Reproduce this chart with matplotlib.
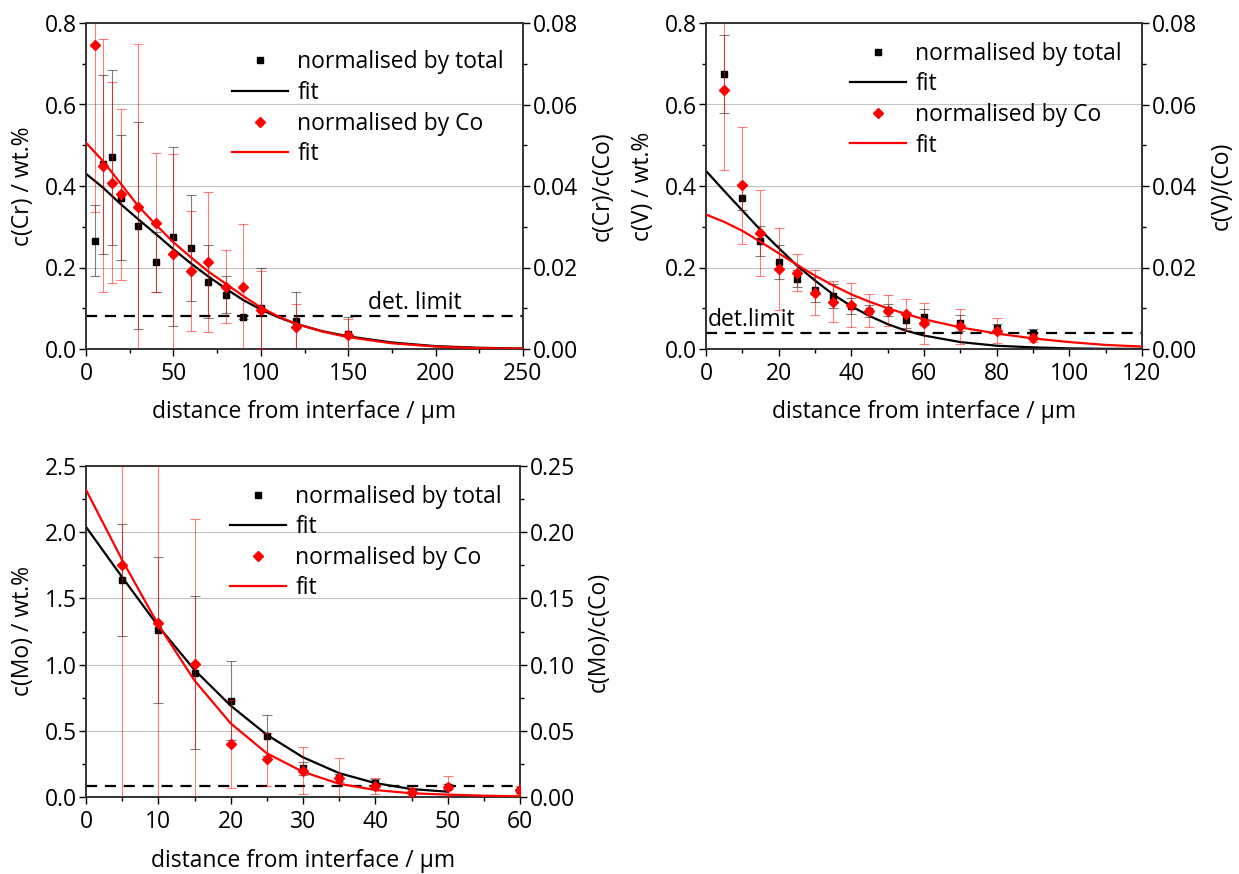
import matplotlib
matplotlib.use("Agg")
import matplotlib.pyplot as plt
from matplotlib.lines import Line2D
from matplotlib.ticker import MultipleLocator, FormatStrFormatter

plt.rcParams['font.family'] = ['Open Sans', 'DejaVu Sans']
FS = 16.5
plt.rcParams['font.size'] = FS

# ---------------- Cr panel ----------------
cr_x = [5, 10, 15, 20, 30, 40, 50, 60, 70, 80, 90, 100, 120, 150]
cr_tot = [0.266, 0.453, 0.470, 0.371, 0.303, 0.213, 0.276, 0.249, 0.165, 0.133, 0.079, 0.100, 0.069, 0.038]
cr_tot_err = [0.087, 0.22, 0.215, 0.153, 0.254, 0.073, 0.22, 0.13, 0.09, 0.045, 0.005, 0.10, 0.07, 0.04]
cr_co = [0.0745, 0.0450, 0.0408, 0.0380, 0.0348, 0.0310, 0.0233, 0.0191, 0.0214, 0.0153, 0.0151, 0.0096, 0.0053, 0.0034]
cr_co_err = [0.041, 0.031, 0.0246, 0.021, 0.040, 0.017, 0.0245, 0.0147, 0.0172, 0.009, 0.0155, 0.0095, 0.0057, 0.004]
cr_fit_x = [0, 10, 20, 30, 40, 50, 60, 70, 80, 90, 100, 110, 120, 135, 150, 175, 200, 225, 250]
cr_fit_tot = [0.43, 0.395, 0.355, 0.318, 0.282, 0.245, 0.21, 0.178, 0.148, 0.12, 0.097, 0.078, 0.062,
              0.044, 0.031, 0.016, 0.007, 0.003, 0.001]
cr_fit_co = [0.0506, 0.046, 0.0405, 0.035, 0.0305, 0.0262, 0.0225, 0.019, 0.016, 0.013, 0.0102, 0.008,
             0.0062, 0.0043, 0.0029, 0.0014, 0.0006, 0.0002, 0.0001]
cr_limit = 0.08

# ---------------- V panel ----------------
v_x = [5, 10, 15, 20, 25, 30, 35, 40, 45, 50, 55, 60, 70, 80, 90]
v_tot = [0.674, 0.371, 0.266, 0.213, 0.173, 0.146, 0.130, 0.106, 0.094, 0.096, 0.071, 0.078, 0.063, 0.051, 0.040]
v_tot_err = [0.096, 0.03, 0.037, 0.042, 0.02, 0.03, 0.03, 0.02, 0.015, 0.015, 0.02, 0.02, 0.02, 0.01, 0.01]
v_co = [0.0636, 0.0402, 0.0284, 0.0196, 0.0187, 0.0138, 0.0116, 0.0108, 0.0094, 0.0094, 0.0085, 0.0063,
        0.0056, 0.0045, 0.0026]
v_co_err = [0.0197, 0.0144, 0.0106, 0.010, 0.0045, 0.0055, 0.005, 0.0055, 0.004, 0.0038, 0.0038, 0.005,
            0.0043, 0.003, 0.001]
v_fit_x = [0, 5, 10, 15, 20, 25, 30, 35, 40, 45, 50, 55, 60, 70, 80, 90, 100, 110, 120]
v_fit_tot = [0.437, 0.388, 0.34, 0.292, 0.248, 0.205, 0.168, 0.134, 0.105, 0.081, 0.061, 0.045, 0.033,
             0.017, 0.008, 0.004, 0.0015, 0.0005, 0.0002]
v_fit_co = [0.033, 0.0312, 0.029, 0.0263, 0.0235, 0.0207, 0.018, 0.0156, 0.0134, 0.0116, 0.010, 0.0086,
            0.0073, 0.0053, 0.0038, 0.0026, 0.0017, 0.001, 0.0006]
v_limit = 0.04

# ---------------- Mo panel ----------------
mo_x = [5, 10, 15, 20, 25, 30, 35, 40, 45, 50, 60]
mo_tot = [1.639, 1.261, 0.939, 0.727, 0.463, 0.216, 0.14, 0.103, 0.04, 0.078, 0.05]
mo_tot_err = [0.42, 0.55, 0.58, 0.30, 0.155, 0.05, 0.03, 0.03, 0.02, 0.02, 0.01]
mo_co = [0.1752, 0.1316, 0.1002, 0.040, 0.0285, 0.020, 0.0146, 0.0083, 0.004, 0.0078, 0.0053]
mo_co_err = [0.18, 0.14, 0.11, 0.0334, 0.02, 0.018, 0.015, 0.0058, 0.003, 0.008, 0.003]
mo_fit_x_tot = [0, 5, 10, 15, 20, 25, 30, 35, 40, 45, 50]
mo_fit_tot = [2.04, 1.66, 1.29, 0.96, 0.69, 0.47, 0.30, 0.18, 0.105, 0.06, 0.04]
mo_fit_x_co = [0, 5, 10, 15, 20, 25, 30, 35, 40, 45, 50, 55, 60]
mo_fit_co = [0.232, 0.179, 0.130, 0.088, 0.0556, 0.033, 0.019, 0.010, 0.0053, 0.0028, 0.0018, 0.001, 0.0005]
mo_limit = 0.085

label_tot = "normalised by total"
label_co = "normalised by Co"

W, H = 1239, 874
fig = plt.figure(figsize=(W / 100, H / 100), dpi=100)


def rect(l, t, r, b):
    return [l / W, 1 - b / H, (r - l) / W, (b - t) / H]


def panel(pos, x, tot, tot_err, co, co_err, fx_t, ft, fx_c, fc, limit,
          xlim, xmaj, xmin_, ylim, ymaj, ymin_, y2lim, y2maj, y2min,
          ylabel, y2label, leg_anchor, limit_text=None, limit_xy=None):
    ax = fig.add_axes(rect(*pos))
    ax2 = ax.twinx()
    ax.set_xlim(*xlim)
    ax.set_ylim(*ylim)
    ax2.set_ylim(*y2lim)
    ax.xaxis.set_major_locator(MultipleLocator(xmaj))
    ax.xaxis.set_minor_locator(MultipleLocator(xmin_))
    ax.yaxis.set_major_locator(MultipleLocator(ymaj))
    ax.yaxis.set_minor_locator(MultipleLocator(ymin_))
    ax2.yaxis.set_major_locator(MultipleLocator(y2maj))
    ax2.yaxis.set_minor_locator(MultipleLocator(y2min))
    ax.yaxis.set_major_formatter(FormatStrFormatter('%.1f'))
    ax2.yaxis.set_major_formatter(FormatStrFormatter('%.2f'))
    ax.grid(axis='y', which='major', color='#c4c4c4', lw=0.8)
    ax.set_axisbelow(True)
    for a in (ax, ax2):
        a.tick_params(which='major', direction='out', length=5, width=1.0, labelsize=FS)
        a.tick_params(which='minor', direction='out', length=3, width=1.0)
        for s in a.spines.values():
            s.set_linewidth(1.2)
            s.set_color('#333333')
    ax.tick_params(axis='y', pad=1.5)
    ax.tick_params(axis='x', pad=4)
    ax2.tick_params(axis='y', pad=2)

    # detection limit
    ax.axhline(limit, color='black', lw=1.6, ls=(0, (5, 3.5)), zorder=2)
    if limit_text:
        ax.text(limit_xy[0], limit_xy[1], limit_text, transform=ax.transAxes,
                fontsize=FS, ha='left', va='center')

    # normalised by total (left axis)
    ax.errorbar(x, tot, yerr=tot_err, fmt='none', ecolor='black', elinewidth=0.8,
                capsize=3.5, capthick=0.8, alpha=0.5, zorder=3)
    ax.plot(fx_t, ft, color='black', lw=1.6, zorder=4)
    ax.plot(x, tot, ls='none', marker='s', ms=5, color='black', zorder=5)

    # normalised by Co (right axis)
    ax2.errorbar(x, co, yerr=co_err, fmt='none', ecolor='red', elinewidth=0.8,
                 capsize=3.5, capthick=0.8, alpha=0.5, zorder=3)
    ax2.plot(fx_c, fc, color='red', lw=1.6, zorder=4)
    ax2.plot(x, co, ls='none', marker='D', ms=5, color='red', zorder=5)

    ax.set_ylabel(ylabel, fontsize=FS)
    ax2.set_ylabel(y2label, fontsize=FS)
    ax.set_xlabel("distance from interface / µm", fontsize=FS)
    ax.yaxis.set_label_coords(-0.145, 0.5)
    ax2.yaxis.set_label_coords(1.182, 0.5)
    ax.xaxis.set_label_coords(0.5, -0.193)
    ax.yaxis.label.set_va('center')
    ax2.yaxis.label.set_va('center')
    ax.xaxis.label.set_va('center')

    handles = [Line2D([], [], ls='none', marker='s', ms=5, color='black'),
               Line2D([], [], color='black', lw=1.6),
               Line2D([], [], ls='none', marker='D', ms=5, color='red'),
               Line2D([], [], color='red', lw=1.6)]
    ax2.legend(handles, [label_tot, "fit", label_co, "fit"], loc='upper left',
               bbox_to_anchor=leg_anchor, frameon=False, borderpad=0, borderaxespad=0,
               handlelength=2.45, handletextpad=0.4, labelspacing=0.29, fontsize=FS)
    return ax, ax2


panel((86, 23, 523, 349), cr_x, cr_tot, cr_tot_err, cr_co, cr_co_err,
      cr_fit_x, cr_fit_tot, cr_fit_x, cr_fit_co, cr_limit,
      (0, 250), 50, 25, (0, 0.8), 0.2, 0.1, (0, 0.08), 0.02, 0.01,
      "c(Cr) / wt.%", "c(Cr)/c(Co)", (0.334, 0.916),
      limit_text="det. limit", limit_xy=(0.645, 0.14))

panel((706, 23, 1142, 349), v_x, v_tot, v_tot_err, v_co, v_co_err,
      v_fit_x, v_fit_tot, v_fit_x, v_fit_co, v_limit,
      (0, 120), 20, 10, (0, 0.8), 0.2, 0.1, (0, 0.08), 0.02, 0.01,
      "c(V) / wt.%", "c(V)/(Co)", (0.330, 0.943),
      limit_text="det.limit", limit_xy=(0.003, 0.09))

panel((86, 466, 520, 797), mo_x, mo_tot, mo_tot_err, mo_co, mo_co_err,
      mo_fit_x_tot, mo_fit_tot, mo_fit_x_co, mo_fit_co, mo_limit,
      (0, 60), 10, 5, (0, 2.5), 0.5, 0.25, (0, 0.25), 0.05, 0.025,
      "c(Mo) / wt.%", "c(Mo)/c(Co)", (0.332, 0.944))

fig.savefig("out.png", dpi=100)
